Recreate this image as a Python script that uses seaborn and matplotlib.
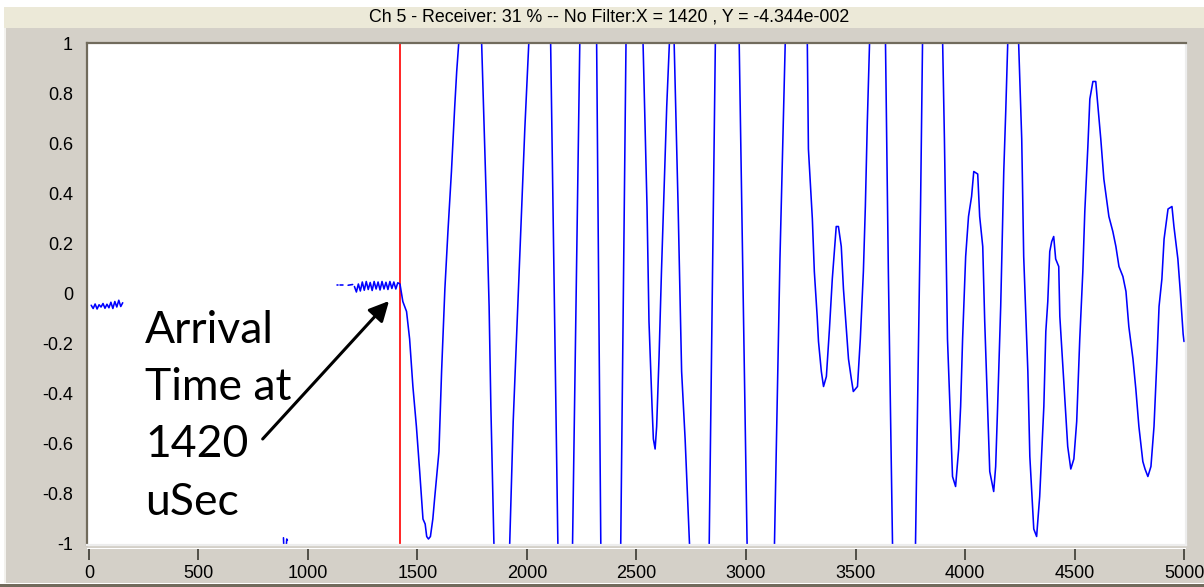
import numpy as np
import pandas as pd
import matplotlib
matplotlib.use("Agg")
import matplotlib.pyplot as plt
from matplotlib.patches import Rectangle
import seaborn as sns

# ---------------------------------------------------------------- text
TITLE = "Ch 5 - Receiver: 31 % -- No Filter:X = 1420 , Y = -4.344e-002"
ARRIVAL_X = 1420
NOTE_LINES = ["Arrival", "Time at", "1420", "uSec"]

# ---------------------------------------------------------------- axes
x_ticks = [0, 500, 1000, 1500, 2000, 2500, 3000, 3500, 4000, 4500, 5000]
x_tick_labels = ["0", "500", "1000", "1500", "2000", "2500", "3000",
                 "3500", "4000", "4500", "5000"]
y_ticks = [-1, -0.8, -0.6, -0.4, -0.2, 0, 0.2, 0.4, 0.6, 0.8, 1]
y_tick_labels = ["-1", "-0.8", "-0.6", "-0.4", "-0.2", "0", "0.2", "0.4",
                 "0.6", "0.8", "1"]

# ---------------------------------------------------------------- signal
# pre-trigger noise at the start of the record
noise_a_t = list(range(10, 155, 9))
noise_a_v = [-0.045, -0.058, -0.040, -0.060, -0.043, -0.052, -0.038, -0.057,
             -0.041, -0.055, -0.033, -0.058, -0.030, -0.052, -0.025, -0.050,
             -0.035]

# isolated samples near the bottom rail
glitch_1 = [(888, -0.975), (890, -1.02)]
glitch_2 = [(900, -1.02), (903, -0.98), (906, -0.985)]

# sparse samples ahead of the continuous noise
dots_1 = [(1133, 0.036), (1137, 0.036)]
dots_2 = [(1147, 0.036), (1159, 0.036)]
dots_3 = [(1183, 0.035), (1204, 0.038)]

# noise just before arrival
noise_b_t = list(range(1212, 1411, 9))
noise_b_v = [0.030, 0.008, 0.040, 0.012, 0.048, 0.015, 0.050, 0.018, 0.046,
             0.014, 0.050, 0.020, 0.048, 0.016, 0.050, 0.020, 0.047, 0.018,
             0.050, 0.022, 0.048, 0.020, 0.045]

# received waveform from the arrival onwards (time in uSec, amplitude)
wave = [
    (1420, 0.04), (1433, -0.03), (1450, -0.07), (1464, -0.18), (1479, -0.37),
    (1495, -0.53), (1510, -0.71), (1525, -0.90), (1535, -0.92), (1542, -0.97),
    (1550, -0.98), (1559, -0.97), (1570, -0.90), (1578, -0.82), (1598, -0.63),
    (1610, -0.31), (1625, 0.02), (1639, 0.25), (1655, 0.49), (1670, 0.75),
    (1679, 0.89), (1688, 1.00), (1740, 1.35), (1793, 1.00), (1815, 0.35),
    (1827, -0.05), (1835, -0.45), (1849, -1.00), (1885, -1.35), (1921, -1.00),
    (1937, -0.51), (1952, -0.18), (1967, 0.15), (1990, 0.66), (2008, 1.00),
    (2060, 1.40), (2108, 1.00), (2141, -1.00), (2175, -1.40), (2208, -1.00),
    (2241, 1.00), (2280, 1.40), (2318, 1.00), (2337, -1.00), (2380, -1.40),
    (2428, -1.00), (2452, 1.00), (2490, 1.40), (2530, 1.00), (2548, 0.35),
    (2557, -0.11), (2571, -0.45), (2577, -0.58), (2585, -0.62), (2592, -0.53),
    (2603, -0.25), (2614, 0.09), (2626, 0.42), (2638, 0.75), (2650, 1.00),
    (2661, 1.15), (2672, 1.00), (2690, 0.35), (2706, -0.31), (2722, -0.58),
    (2742, -1.00), (2787, -1.40), (2832, -1.00), (2860, 1.00), (2915, 1.45),
    (2969, 1.00), (3005, -1.00), (3068, -1.50), (3130, -1.00), (3155, 0.14),
    (3179, 1.00), (3230, 1.30), (3280, 1.00), (3285, 0.58), (3303, 0.30),
    (3312, 0.09), (3325, -0.09), (3331, -0.19), (3344, -0.31), (3354, -0.37),
    (3367, -0.33), (3381, -0.14), (3394, 0.06), (3404, 0.18), (3412, 0.27),
    (3422, 0.27), (3435, 0.19), (3445, 0.02), (3458, -0.14), (3468, -0.26),
    (3481, -0.34), (3490, -0.39), (3509, -0.37), (3522, -0.18), (3536, 0.09),
    (3545, 0.35), (3554, 0.69), (3564, 1.00), (3600, 1.30), (3637, 1.00),
    (3650, 0.09), (3669, -1.00), (3720, -1.40), (3774, -1.00), (3797, 0.35),
    (3806, 1.00), (3852, 1.35), (3898, 1.00), (3906, 0.62), (3920, -0.18),
    (3934, -0.51), (3943, -0.73), (3957, -0.77), (3971, -0.62), (3980, -0.45),
    (3989, -0.18), (4003, 0.15), (4016, 0.31), (4030, 0.39), (4040, 0.49),
    (4058, 0.48), (4067, 0.31), (4081, 0.19), (4090, -0.11), (4103, -0.45),
    (4113, -0.71), (4131, -0.79), (4140, -0.69), (4149, -0.45), (4163, -0.05),
    (4177, 0.49), (4186, 0.73), (4195, 1.00), (4220, 1.12), (4245, 1.00),
    (4259, 0.62), (4268, 0.15), (4287, -0.31), (4296, -0.65), (4314, -0.94),
    (4327, -0.97), (4341, -0.81), (4360, -0.45), (4369, -0.15), (4378, -0.03),
    (4387, 0.17), (4396, 0.21), (4405, 0.23), (4414, 0.14), (4428, 0.11),
    (4433, -0.09), (4447, -0.29), (4456, -0.42), (4469, -0.61), (4483, -0.70),
    (4497, -0.66), (4510, -0.51), (4524, -0.18), (4538, 0.09), (4547, 0.33),
    (4561, 0.59), (4570, 0.78), (4584, 0.85), (4597, 0.85), (4607, 0.75),
    (4620, 0.62), (4634, 0.46), (4657, 0.31), (4675, 0.25), (4689, 0.19),
    (4703, 0.11), (4721, 0.07), (4735, 0.01), (4748, -0.13), (4767, -0.26),
    (4780, -0.38), (4794, -0.53), (4812, -0.67), (4822, -0.70), (4835, -0.73),
    (4849, -0.69), (4863, -0.53), (4877, -0.25), (4886, -0.05), (4899, 0.06),
    (4909, 0.22), (4927, 0.34), (4945, 0.35), (4954, 0.27), (4972, 0.14),
    (4983, 0.01), (4990, -0.08), (4996, -0.16), (5000, -0.19),
]

# ---------------------------------------------------------------- data frame
segments = [
    list(zip(noise_a_t, noise_a_v)),
    glitch_1, glitch_2, dots_1, dots_2, dots_3,
    list(zip(noise_b_t, noise_b_v)) + wave,
]
rows = []
for k, seg in enumerate(segments):
    for t, v in seg:
        rows.append({"t": t, "v": v, "seg": k})
df = pd.DataFrame(rows)

# ---------------------------------------------------------------- figure
W, H = 1204, 587
sns.set_style("white")
plt.rcParams["axes.unicode_minus"] = False
plt.rcParams["font.family"] = ["Liberation Sans", "DejaVu Sans"]

fig = plt.figure(figsize=(W / 100, H / 100), dpi=100, facecolor="white")


def band(x0, y0, x1, y1, color):
    fig.add_artist(Rectangle((x0 / W, 1 - y1 / H), (x1 - x0) / W, (y1 - y0) / H,
                             transform=fig.transFigure, facecolor=color,
                             edgecolor="none", zorder=-10))


GRAY = "#d4d0c8"
band(4, 7, W, 583, GRAY)
band(4, 7, W, 28, "#ece9d8")
band(4, 28, 6, 583, "#f3f2ee")
band(0, 584, W, H, "#716b5c")

fig.text(609 / W, 1 - 17.5 / H, TITLE, ha="center", va="center",
         fontsize=12.8, color="black")

ax_l, ax_r, ax_t, ax_b = 87, 1186, 43, 545
ax = fig.add_axes([ax_l / W, 1 - ax_b / H, (ax_r - ax_l) / W, (ax_b - ax_t) / H])
ax.set_facecolor("white")

ax.axvline(ARRIVAL_X, color="#ff0000", lw=1.2, zorder=1.5)
sns.lineplot(data=df, x="t", y="v", units="seg", estimator=None, sort=False,
             color="#0000ff", lw=1.15, ax=ax, zorder=2, legend=False)

ax.set_xlim(-9.1, 5009.1)
ax.set_ylim(-1.004, 1.004)
ax.set_xlabel("")
ax.set_ylabel("")

DARK = "#716b5c"
for side in ("top", "left"):
    ax.spines[side].set_color(DARK)
    ax.spines[side].set_linewidth(1.6)
for side in ("right", "bottom"):
    ax.spines[side].set_color("#ededed")
    ax.spines[side].set_linewidth(1.6)

ax.set_yticks(y_ticks, labels=y_tick_labels)
ax.tick_params(axis="y", direction="out", length=8, width=1.2, color="#3a3830",
               labelsize=13, pad=2, labelcolor="black")
ax.tick_params(axis="x", bottom=False, labelbottom=False)

# tick row sits slightly below the plotting area
sec = ax.secondary_xaxis(-3.5 / (ax_b - ax_t))
sec.set_xticks(x_ticks, labels=x_tick_labels)
for s in sec.spines.values():
    s.set_visible(False)
sec.tick_params(axis="x", direction="out", length=8, width=1.2, color="#3a3830",
                labelsize=13, pad=4, labelcolor="black")

# arrival-time callout
ax.annotate("", xy=(1370, -0.028), xytext=(793, -0.58),
            arrowprops=dict(arrowstyle="-|>", color="black", lw=2.2,
                            mutation_scale=30, shrinkA=0, shrinkB=0),
            zorder=3)
for i, line in enumerate(NOTE_LINES):
    fig.text(145 / W, 1 - (343 + 57.2 * i) / H, line, ha="left", va="baseline",
             fontsize=32, family=["Lato", "DejaVu Sans"], color="black")

fig.savefig("out.png", dpi=100, facecolor=fig.get_facecolor())
